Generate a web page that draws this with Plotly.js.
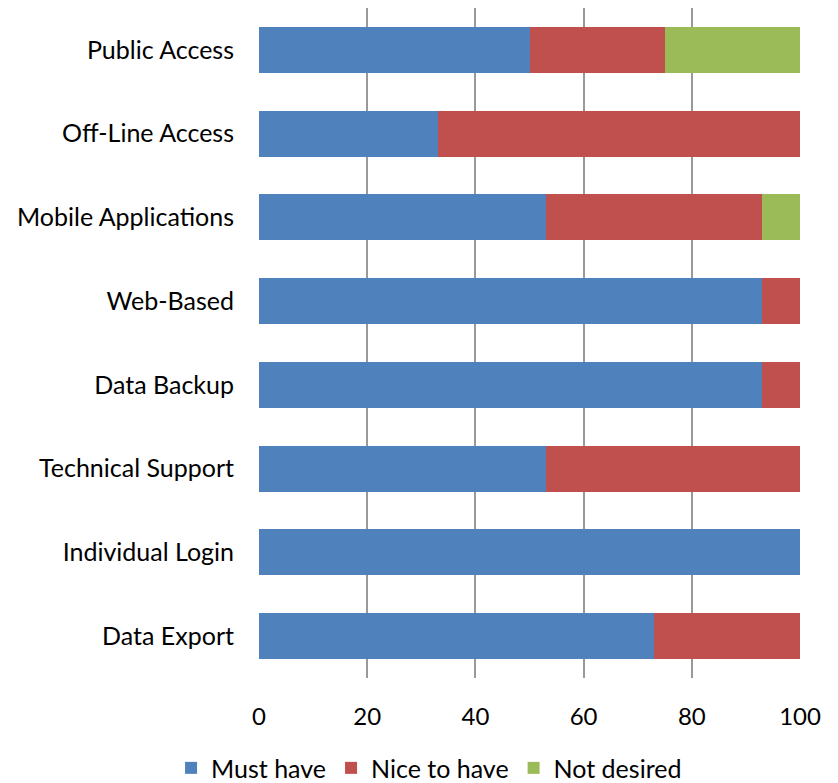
<!DOCTYPE html>
<html>
<head>
<meta charset="utf-8">
<script src="https://cdn.plot.ly/plotly-3.0.1.min.js"></script>
<style>html,body{margin:0;padding:0;background:#fff;}#chart{width:838px;height:783px;}</style>
</head>
<body>
<div id="chart"></div>
<script>
const categories = ["Public Access","Off-Line Access","Mobile Applications","Web-Based","Data Backup","Technical Support","Individual Login","Data Export"];
const mustHave = [50, 33, 53, 93, 93, 53, 100, 73];
const niceToHave = [25, 67, 40, 7, 7, 47, 0, 27];
const notDesired = [25, 0, 7, 0, 0, 0, 0, 0];
const seriesNames = ["Must have", "Nice to have", "Not desired"];
const colors = ["#4F81BD", "#C0504D", "#9BBB59"];
const xTicks = [0, 20, 40, 60, 80, 100];

const series = [mustHave, niceToHave, notDesired];
const traces = series.map((vals, i) => ({
  type: "bar",
  orientation: "h",
  name: seriesNames[i],
  y: categories,
  x: vals,
  marker: {color: colors[i]},
  hoverinfo: "skip"
}));

const font = {family: "Lato, 'Open Sans', sans-serif", size: 24, color: "#000"};
const bigFont = {family: "Lato, 'Open Sans', sans-serif", size: 25, color: "#000"};
const layout = {
  width: 838, height: 783,
  barmode: "stack",
  bargap: 0.45,
  margin: {l: 259, r: 38, t: 8, b: 105, pad: 0},
  paper_bgcolor: "#fff", plot_bgcolor: "#fff",
  font: font,
  xaxis: {
    range: [0, 100], tickvals: xTicks, ticktext: xTicks.map(String),
    showgrid: true, gridcolor: "#999", gridwidth: 2,
    zeroline: false, showline: false, ticks: "",
    ticklabelstandoff: 22, tickfont: font, fixedrange: true
  },
  yaxis: {
    type: "category", categoryorder: "array", categoryarray: categories,
    autorange: "reversed", showgrid: false, zeroline: false, showline: false,
    ticks: "", ticklabelstandoff: 24, tickfont: bigFont, fixedrange: true
  },
  legend: {
    orientation: "h", xref: "container", yref: "container",
    x: 0.512, xanchor: "center", y: 0.019, yanchor: "middle",
    font: bigFont, itemwidth: 30, traceorder: "normal"
  },
  showlegend: true
};

Plotly.newPlot("chart", traces, layout, {displayModeBar: false, staticPlot: true});
</script>
</body>
</html>
